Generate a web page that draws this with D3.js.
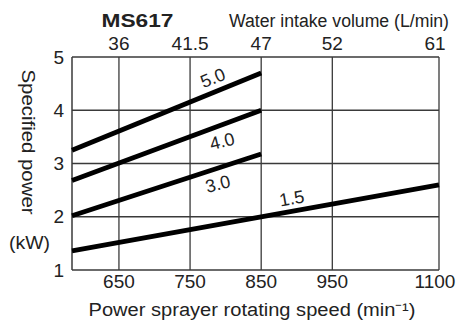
<!DOCTYPE html>
<html>
<head>
<meta charset="utf-8">
<script src="https://cdn.jsdelivr.net/npm/d3@7"></script>
<style>
  body { margin: 0; background: #fff; }
  text { font-family: "Liberation Sans", Arial, sans-serif; fill: #222; }
</style>
</head>
<body>
<div id="chartArea"></div>
<script>
// Bottom axis ticks (rotating speed) and matching top labels (water intake)
let speedTicks = [650, 750, 850, 950, 1100];
let waterLabels = ['36', '41.5', '47', '52', '61'];
let powerTicks = [1, 2, 3, 4, 5];

// Each curve: label and its end points [speed, kW]
let curveNames = ['5.0', '4.0', '3.0', '1.5'];
let curveSpeeds = [[584, 850], [584, 850], [584, 850], [584, 1100]];
let curvePowers = [[3.25, 4.7], [2.68, 4.0], [2.02, 3.18], [1.36, 2.6]];
let labelAt = [[782, 4.61], [795, 3.42], [789, 2.62], [893, 2.35]];
let labelAngle = [-22, -14, -14, -10];

function drawGraph() {
    let margins = { top: 57, right: 20, bottom: 51, left: 72 };
    let svgWidth = 459 - margins.left - margins.right,
        svgHeight = 321 - margins.top - margins.bottom;

    let svg = d3.select('#chartArea')
        .append('svg')
        .attr('width', 459)
        .attr('height', 321);

    let chart = svg.append('g')
        .attr('transform', 'translate(' + margins.left + ',' + margins.top + ')');

    let xScale = d3.scaleLinear().domain([584, 1100]).range([0, svgWidth]);
    let yScale = d3.scaleLinear().domain([1, 5]).range([svgHeight, 0]);

    // grid
    chart.selectAll('.vgrid')
        .data(speedTicks)
        .enter().append('line')
        .attr('x1', d => xScale(d)).attr('x2', d => xScale(d))
        .attr('y1', 0).attr('y2', svgHeight)
        .attr('stroke', '#3a3a3a').attr('stroke-width', 1.3);

    chart.selectAll('.hgrid')
        .data(powerTicks)
        .enter().append('line')
        .attr('x1', 0).attr('x2', svgWidth)
        .attr('y1', d => yScale(d)).attr('y2', d => yScale(d))
        .attr('stroke', '#3a3a3a').attr('stroke-width', 1.3);

    chart.append('line')
        .attr('x1', 0).attr('x2', 0).attr('y1', 0).attr('y2', svgHeight)
        .attr('stroke', '#3a3a3a').attr('stroke-width', 1.5);

    // curves
    let line = d3.line()
        .x(d => xScale(d[0]))
        .y(d => yScale(d[1]));

    curveNames.forEach((name, i) => {
        let pts = curveSpeeds[i].map((s, j) => [s, curvePowers[i][j]]);
        chart.append('path')
            .attr('d', line(pts))
            .attr('fill', 'none')
            .attr('stroke', '#000')
            .attr('stroke-width', 4.8);
        chart.append('text')
            .attr('transform', 'translate(' + xScale(labelAt[i][0]) + ',' + yScale(labelAt[i][1]) + ') rotate(' + labelAngle[i] + ')')
            .attr('text-anchor', 'middle')
            .attr('dy', '0.35em')
            .style('font-size', '18px')
            .text(name);
    });

    // the last tick label sits a little inside the right edge
    let labelX = (d, i) => xScale(d) - (i === speedTicks.length - 1 ? 4 : 0);

    // bottom axis labels
    chart.selectAll('.xlab')
        .data(speedTicks)
        .enter().append('text')
        .attr('x', labelX)
        .attr('y', svgHeight + 18)
        .attr('text-anchor', 'middle')
        .style('font-size', '19px')
        .text(d => d);

    // top axis labels
    chart.selectAll('.tlab')
        .data(speedTicks)
        .enter().append('text')
        .attr('x', labelX)
        .attr('y', -7)
        .attr('text-anchor', 'middle')
        .style('font-size', '19px')
        .text((d, i) => waterLabels[i]);

    // left axis labels
    chart.selectAll('.ylab')
        .data(powerTicks)
        .enter().append('text')
        .attr('x', -8)
        .attr('y', d => yScale(d))
        .attr('dy', '0.35em')
        .attr('text-anchor', 'end')
        .style('font-size', '19px')
        .text(d => d);

    // titles
    svg.append('text')
        .attr('x', 137.5).attr('y', 27)
        .attr('text-anchor', 'middle')
        .attr('textLength', 72)
        .attr('lengthAdjust', 'spacingAndGlyphs')
        .style('font-size', '18px')
        .style('font-weight', 'bold')
        .text('MS617');

    svg.append('text')
        .attr('x', 339).attr('y', 27)
        .attr('text-anchor', 'middle')
        .attr('textLength', 220)
        .attr('lengthAdjust', 'spacingAndGlyphs')
        .style('font-size', '18px')
        .text('Water intake volume (L/min)');

    svg.append('text')
        .attr('x', 252).attr('y', 316)
        .attr('text-anchor', 'middle')
        .attr('textLength', 327)
        .attr('lengthAdjust', 'spacingAndGlyphs')
        .style('font-size', '18px')
        .text('Power sprayer rotating speed (min\u207B\u00B9)');

    svg.append('text')
        .attr('transform', 'translate(22,142) rotate(90)')
        .attr('text-anchor', 'middle')
        .attr('textLength', 145)
        .attr('lengthAdjust', 'spacingAndGlyphs')
        .style('font-size', '18px')
        .text('Specified power');

    svg.append('text')
        .attr('x', 29.5).attr('y', 249)
        .attr('text-anchor', 'middle')
        .attr('textLength', 41)
        .attr('lengthAdjust', 'spacingAndGlyphs')
        .style('font-size', '18px')
        .text('(kW)');
}

drawGraph();
</script>
</body>
</html>
